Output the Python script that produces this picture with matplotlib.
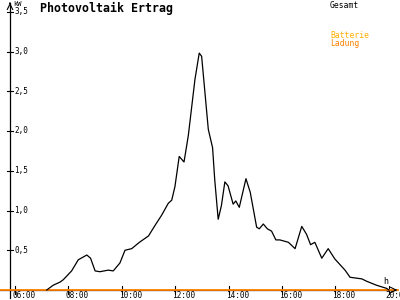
import matplotlib
matplotlib.use("Agg")
import matplotlib.pyplot as plt

# ===== 데이터 =====
hours = [7.19, 7.43, 7.69, 7.81, 8.12, 8.37, 8.69, 8.83, 9.00, 9.18, 9.49, 9.68,
         9.93, 10.12, 10.37, 10.66, 11.00, 11.24, 11.49, 11.74, 11.87, 11.99,
         12.15, 12.33, 12.49, 12.74, 12.90, 12.99, 13.24, 13.40, 13.48, 13.61,
         13.73, 13.86, 13.98, 14.17, 14.27, 14.40, 14.65, 14.81, 15.05, 15.15,
         15.30, 15.45, 15.61, 15.77, 15.92, 16.24, 16.49, 16.74, 16.92, 17.07,
         17.23, 17.49, 17.73, 17.98, 18.36, 18.55, 18.99, 19.17, 19.54, 19.92, 20.0]
gesamt_kw = [0.0, 0.06, 0.10, 0.13, 0.24, 0.38, 0.44, 0.40, 0.24, 0.23, 0.25, 0.24,
             0.34, 0.50, 0.52, 0.60, 0.68, 0.81, 0.94, 1.09, 1.13, 1.30,
             1.68, 1.61, 1.94, 2.65, 2.98, 2.94, 2.02, 1.79, 1.39, 0.89,
             1.06, 1.36, 1.31, 1.08, 1.12, 1.04, 1.40, 1.23, 0.79, 0.77,
             0.83, 0.77, 0.74, 0.63, 0.63, 0.60, 0.52, 0.80, 0.70, 0.57,
             0.60, 0.40, 0.52, 0.39, 0.25, 0.16, 0.14, 0.11, 0.06, 0.02, 0.0]
ladung_hours = [5.44, 20.35]
ladung_kw = [0.0, 0.0]

x_ticks = [6, 8, 10, 12, 14, 16, 18, 20]
x_labels = ["06:00", "08:00", "10:00", "12:00", "14:00", "16:00", "18:00", "20:00"]
y_ticks = [0.5, 1.0, 1.5, 2.0, 2.5, 3.0, 3.5]
y_labels = ["0,5", "1,0", "1,5", "2,0", "2,5", "3,0", "3,5"]
# ==================

PX_H = 26.7      # px per hour
PX_KW = 79.5     # px per kW
X0 = 6 - 15 / PX_H
Y0 = -10 / PX_KW


def hx(px):
    return X0 + px / PX_H


def vy(py):
    return (290 - py) / PX_KW


MONO = "DejaVu Sans Mono"

fig = plt.figure(figsize=(4, 3), dpi=100)
ax = fig.add_axes([0, 0, 1, 1])
ax.set_xlim(X0, X0 + 400 / PX_H)
ax.set_ylim(Y0, Y0 + 300 / PX_KW)
ax.axis("off")

# 축
ax.plot([hx(10), hx(10)], [vy(298), vy(3)], color="black", lw=0.9)
ax.annotate("", xy=(hx(10), vy(0)), xytext=(hx(10), vy(6)),
            arrowprops=dict(arrowstyle="->", color="black", lw=0.8))
ax.plot([hx(0), hx(396)], [0, 0], color="black", lw=0.9)
ax.annotate("", xy=(hx(400), 0), xytext=(hx(392), 0),
            arrowprops=dict(arrowstyle="->", color="black", lw=0.8))

for t, lab in zip(y_ticks, y_labels):
    ax.plot([hx(7), hx(13)], [t, t], color="black", lw=0.8)
    ax.text(hx(14), t, lab, fontsize=5.5, family=MONO, va="center", ha="left")
for t, lab in zip(x_ticks, x_labels):
    ax.plot([t, t], [vy(286), vy(294)], color="black", lw=0.8)
    # 라벨은 눈금 3px 왼쪽에서 시작 (오른쪽 끝은 잘림)
    ax.text(t - 3 / PX_H, vy(295.5), lab, fontsize=5.6, family=MONO,
            va="center", ha="left")

ax.text(hx(13), vy(4), "kW", fontsize=5, family=MONO, va="center", ha="left")
ax.text(hx(386), vy(282), "h", fontsize=6, family=MONO, va="center", ha="center")

# 데이터
ax.plot(ladung_hours, ladung_kw, color="#FF8000", lw=1.3)
ax.plot(hours, gesamt_kw, color="black", lw=0.9)

# 제목 / 범례
ax.text(hx(40), vy(8), "Photovoltaik Ertrag", fontsize=8.4, family=MONO,
        weight="bold", va="center", ha="left")
ax.text(hx(330), vy(5), "Gesamt", fontsize=5.8, family=MONO, va="center", ha="left")
ax.text(hx(330), vy(36), "Batterie", fontsize=5.8, family=MONO, va="center",
        ha="left", color="#FFB000")
ax.text(hx(330), vy(44), "Ladung", fontsize=5.8, family=MONO, va="center",
        ha="left", color="#FF8000")

fig.savefig("out.png", dpi=100)
